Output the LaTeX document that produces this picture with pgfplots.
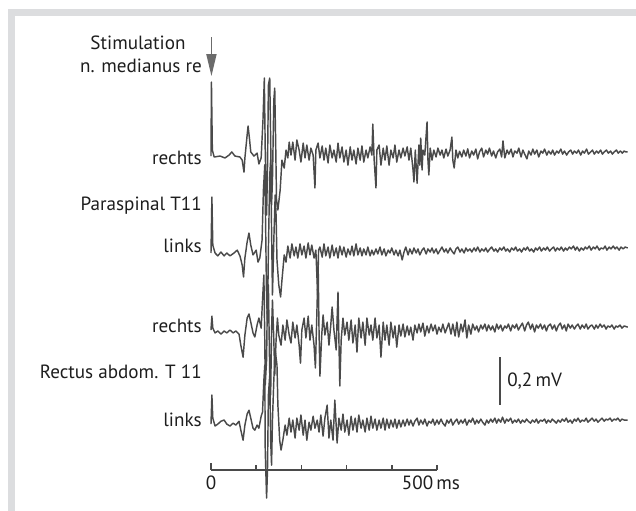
\documentclass[border=0pt]{standalone}
\usepackage{pgfplots}
\pgfplotsset{compat=1.18}
\usepackage{pgfplotstable}
\usetikzlibrary{arrows.meta}
\usepackage{fontspec}
\setmainfont{PT Sans}
\definecolor{framegray}{HTML}{DCDDDF}
\definecolor{trace}{HTML}{4A4A4A}
\definecolor{txt}{HTML}{1E1E1E}
\tikzset{lbl/.style={font=\fontsize{19.2}{22}\selectfont, text=txt, inner sep=0pt}}
\pgfplotsset{emg/.style={color=trace, line width=1.45bp, line join=round, no markers}}

% time t in ms, potential v in microvolt (relative to each trace's baseline)
\pgfplotstableread{
t v
0 0
1 308
3 25
7 -4
20 0
31 -8
40 4
46 17
53 0
64 -4
69 -17
73 -67
75 -8
80 88
82 125
85 75
88 17
95 0
102 12
106 -33
111 -8
115 150
118 325
120 25
123 -246
125 -58
127 296
130 325
132 67
134 -204
136 -100
139 233
141 283
143 67
145 -183
148 -225
153 -142
157 -17
162 -50
166 25
170 -8
173 58
177 4
181 58
186 -17
190 67
195 25
199 -25
204 54
208 -8
212 46
217 -17
221 33
226 4
230 -133
232 25
237 54
241 -8
246 42
250 -17
254 33
259 -29
263 46
268 -8
272 25
277 -25
281 54
285 -8
290 38
294 -25
299 25
303 -38
308 38
312 -17
316 25
321 -33
325 33
330 -17
334 42
338 -25
343 25
347 -8
352 38
356 4
358 133
361 -17
365 -133
367 25
372 46
376 -38
381 33
385 -17
389 42
394 -38
398 25
403 -8
407 46
411 -25
416 25
420 -8
425 33
429 0
434 38
438 -17
442 33
447 -58
449 -108
452 25
456 -113
460 46
462 -38
464 75
467 -58
469 25
473 4
478 142
480 -17
482 -79
485 33
489 -17
493 25
498 -4
502 33
507 4
511 25
515 -8
520 29
524 0
529 25
533 79
535 -17
538 -50
542 25
546 -8
550 20
555 -4
559 25
564 0
568 30
572 -8
577 21
581 4
586 29
590 -12
594 17
599 33
603 -4
608 25
612 8
616 33
621 0
625 21
630 -8
634 17
639 29
643 -4
646 63
650 -8
655 25
659 8
664 29
668 -4
672 21
677 12
681 33
686 -4
690 25
694 8
699 -12
703 21
708 4
712 29
716 8
721 25
725 -4
730 21
734 12
738 29
743 4
747 21
752 8
756 25
760 4
765 21
769 12
774 29
778 8
782 21
787 4
791 17
796 25
800 8
804 21
809 12
813 25
818 4
822 21
826 12
831 29
835 8
840 17
844 25
848 8
853 21
857 12
862 25
866 8
870 17
875 25
879 12
884 21
888 8
892 17
897 25
901 12
906 21
910 12
914 21
918 17
922 17
}\traceA

\pgfplotstableread{
t v
0 0
2 233
4 33
9 0
15 -12
22 4
29 -12
35 0
42 -12
51 0
58 12
64 -12
69 -50
72 -100
75 -21
80 46
84 83
88 33
93 -8
100 12
104 -38
108 -21
113 54
116 263
119 367
121 96
123 -196
125 -279
127 12
130 325
132 388
134 96
136 -175
139 54
142 242
144 158
146 -29
150 -133
154 -183
157 -113
162 -8
166 -38
170 29
175 -21
179 38
184 -12
188 25
192 -21
197 38
201 -8
206 29
210 -21
215 42
219 -8
223 33
228 -21
232 12
236 -175
238 12
241 25
246 -17
250 38
254 -12
259 25
263 -21
268 33
272 -12
277 21
281 -21
285 29
290 -8
294 25
299 -17
303 17
308 -8
312 29
316 -12
321 38
325 -8
330 21
334 -12
338 17
343 -8
347 25
352 -12
356 12
360 -8
365 17
369 -4
374 25
378 -8
383 17
387 -12
392 12
396 0
400 21
405 -8
409 12
414 -12
418 12
423 -29
427 4
431 25
436 -8
440 17
445 -4
449 21
454 0
458 17
462 -8
467 12
471 21
476 -4
480 17
485 4
489 21
493 0
498 17
502 -4
507 12
511 25
516 4
520 17
524 0
529 21
533 8
538 -4
542 17
546 25
551 4
555 17
560 0
564 21
568 8
573 17
577 4
582 21
586 8
590 25
595 4
599 17
604 8
608 21
612 4
617 17
621 25
626 8
630 17
634 4
639 21
643 12
648 25
652 8
656 17
661 4
665 21
670 12
674 25
678 8
683 17
687 4
692 21
696 12
700 25
705 8
709 17
714 4
718 21
722 12
727 25
731 8
736 21
740 12
744 25
749 8
753 17
758 25
762 8
766 21
771 12
775 25
780 8
784 21
788 12
793 25
797 17
802 29
806 12
810 25
815 8
819 21
824 12
828 25
832 17
837 29
841 12
846 25
850 17
854 29
859 12
863 21
868 17
872 29
876 12
881 25
885 17
890 29
894 17
898 25
903 12
907 25
912 17
916 25
922 21
}\traceB

\pgfplotstableread{
t v
0 0
2 58
4 8
9 -12
15 -4
22 -17
29 -4
35 -12
42 0
49 -12
55 -4
62 -17
66 -63
71 -113
75 -21
80 50
84 67
88 33
93 -12
97 -29
102 21
106 50
111 8
114 125
117 229
119 -42
120 -229
123 -125
125 167
127 188
130 -188
132 -271
134 0
136 125
139 -42
141 -188
144 -42
147 50
150 -21
155 -63
159 21
164 -42
168 42
173 -21
177 -54
181 33
186 -33
190 21
195 -63
198 -138
201 0
206 50
210 -33
215 58
219 -42
223 21
228 -63
231 -158
235 125
237 283
239 0
241 -192
245 -21
248 63
252 -21
257 33
261 -63
265 21
268 96
272 0
277 -83
279 42
281 158
283 -42
285 -233
288 -42
292 50
296 -21
301 33
305 -42
310 42
314 -54
319 21
323 -92
327 50
332 -33
336 33
341 -63
345 50
350 -21
354 21
358 -42
363 50
367 -33
372 21
376 -113
381 33
385 -42
389 21
394 -63
398 33
403 -33
407 17
411 -71
416 21
420 -25
425 25
429 -29
434 17
438 -21
442 12
447 -42
451 21
456 -12
460 25
464 -8
469 29
473 -25
478 17
482 -12
487 25
491 -4
496 21
500 -17
504 12
509 -8
513 25
518 -12
522 8
526 29
531 -17
535 25
540 -25
544 33
548 -29
553 25
557 -8
562 42
566 -33
570 21
575 -17
579 25
584 0
588 17
592 -8
597 21
601 4
606 25
610 -4
614 21
619 0
623 17
628 -8
632 25
636 4
641 21
645 -4
650 17
654 8
658 25
663 -4
667 21
672 8
676 25
680 0
685 17
689 29
694 -4
698 21
702 33
707 4
711 25
716 -8
720 21
724 8
729 25
733 4
738 21
742 -4
746 17
751 25
755 4
760 21
764 -4
768 17
773 29
777 4
782 21
786 -4
790 25
795 8
799 21
804 4
808 17
812 25
817 4
821 21
826 8
830 25
834 4
839 17
843 21
848 4
852 21
856 8
861 25
865 12
870 21
874 4
878 17
883 12
887 21
892 4
896 17
900 12
905 21
909 8
914 17
922 12
}\traceC

\pgfplotstableread{
t v
0 0
2 121
4 25
9 -8
15 0
22 12
29 17
35 0
42 -8
49 4
55 -4
62 12
66 -25
71 -67
75 -4
80 42
84 58
88 25
93 -17
97 -25
102 -4
106 -17
111 33
114 50
117 183
119 246
120 -108
123 -308
125 -192
127 121
130 204
132 -67
134 -171
136 17
139 183
142 308
146 246
148 79
152 -67
155 -108
159 -67
164 -4
168 -46
173 25
177 -33
181 17
186 -58
190 25
195 -25
199 38
204 -46
208 17
212 -67
217 8
221 -25
226 33
230 -17
235 17
239 -33
243 38
248 -50
252 25
257 79
261 -58
265 17
270 -67
274 100
279 -79
283 25
288 -25
292 42
296 -33
301 17
305 -46
310 33
314 -25
319 25
323 -33
327 38
332 -17
336 17
341 -33
345 25
350 -25
354 33
358 -17
363 21
367 -25
372 17
376 -17
381 25
385 -25
389 21
394 -17
398 17
403 -12
407 21
411 -17
416 17
420 -12
425 17
429 -8
434 21
438 -4
442 17
447 -8
451 12
456 25
460 -4
464 17
469 0
473 21
478 -8
482 12
487 4
491 21
495 -4
500 17
504 0
509 21
513 4
518 -8
522 17
526 4
531 21
535 -4
540 12
544 21
548 0
553 17
557 4
562 21
566 -4
571 17
575 8
579 25
584 0
588 17
592 4
597 21
601 8
606 -4
610 17
614 4
619 21
623 8
628 25
632 4
636 21
641 8
645 29
650 4
654 21
658 12
663 25
667 4
672 17
676 8
680 21
685 4
689 17
694 8
698 21
702 12
707 4
711 17
716 8
720 21
724 4
729 17
733 12
738 21
742 4
746 17
751 8
755 21
760 12
764 4
768 17
773 8
777 21
782 12
786 25
790 8
795 17
799 4
804 21
808 12
812 25
817 8
821 17
826 12
830 25
834 8
839 17
843 25
848 12
852 21
856 8
861 17
865 25
870 12
874 21
878 17
883 25
887 12
892 21
896 17
900 25
905 12
909 21
914 17
922 17
}\traceD

\begin{document}
\begin{tikzpicture}
\useasboundingbox (0,0) rectangle (636bp,511bp);
\fill[white] (0,0) rectangle (636bp,511bp);
\fill[framegray] (8bp,0) rectangle (15bp,502bp);
\fill[framegray] (8bp,495bp) rectangle (636bp,502bp);
\begin{axis}[
  at={(0,0)}, anchor=south west,
  scale only axis, width=636bp, height=511bp,
  xmin=-466.8, xmax=940.3, ymin=0, ymax=2129.2,
  hide axis, clip=false,
]
% traces (baselines: 1479, 1075, 754, 362 microvolt in picture units)
\addplot[emg] table[x=t, y expr=\thisrow{v}+1479] {\traceA};
\addplot[emg] table[x=t, y expr=\thisrow{v}+1075] {\traceB};
\addplot[emg] table[x=t, y expr=\thisrow{v}+754] {\traceC};
\addplot[emg] table[x=t, y expr=\thisrow{v}+362] {\traceD};

% time scale
\draw[trace, line width=2bp] (axis cs:0,171) -- (axis cs:500,171);
\draw[trace, line width=1.5bp] (axis cs:100,171) -- (axis cs:100,192);
\draw[trace, line width=1.5bp] (axis cs:200,171) -- (axis cs:200,192);
\draw[trace, line width=1.5bp] (axis cs:300,171) -- (axis cs:300,192);
\draw[trace, line width=1.5bp] (axis cs:400,171) -- (axis cs:400,192);
\draw[trace, line width=1.5bp] (axis cs:500,171) -- (axis cs:500,192);
\draw[trace, line width=1.5bp] (axis cs:0,171) -- (axis cs:0,200);
\node[lbl, anchor=base] at (axis cs:0,87.5) {0};
\node[lbl, anchor=base west] at (axis cs:422,87.5) {500\,ms};

% amplitude scale
\draw[trace, line width=2.5bp] (axis cs:639,443.75) -- (axis cs:639,643.75);
\node[lbl, anchor=base west] at (axis cs:655,516.7) {0,2\,mV};

% stimulus arrow
\draw[color=black!58, line width=1.6bp, -{Triangle[width=10bp,length=22bp]}] (axis cs:1,1975) -- (axis cs:1,1812);

% labels
\node[lbl, anchor=base] at (axis cs:-161.5,1925) {Stimulation};
\node[lbl, anchor=base east] at (axis cs:-20,1829) {n. medianus re};
\node[lbl, anchor=base east] at (axis cs:-20,1441.7) {rechts};
\node[lbl, anchor=base east] at (axis cs:-20,1250) {Paraspinal T11};
\node[lbl, anchor=base east] at (axis cs:-20,1075) {links};
\node[lbl, anchor=base east] at (axis cs:-20,745.8) {rechts};
\node[lbl, anchor=base east] at (axis cs:-20,550) {Rectus abdom. T 11};
\node[lbl, anchor=base east] at (axis cs:-20,350) {links};
\end{axis}
\end{tikzpicture}
\end{document}
